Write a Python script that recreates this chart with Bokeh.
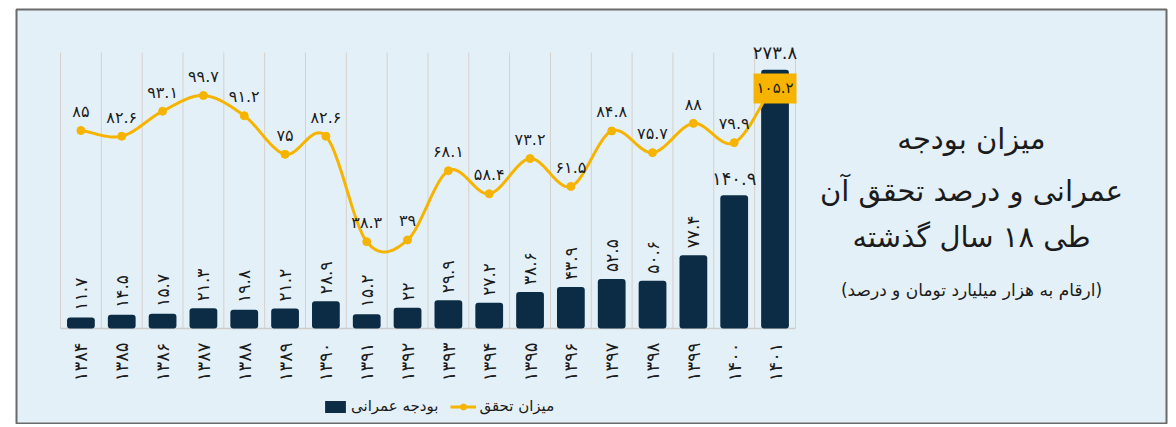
import numpy as np
from bokeh.plotting import figure
from bokeh.models import ColumnDataSource, Range1d, Label
from bokeh.core.properties import value
from bokeh.embed import file_html
from bokeh.resources import INLINE

# ---------------- data ----------------
years = ["1384", "1385", "1386", "1387", "1388", "1389", "1390", "1391", "1392",
         "1393", "1394", "1395", "1396", "1397", "1398", "1399", "1400", "1401"]
budget = [11.7, 14.5, 15.7, 21.3, 19.8, 21.2, 28.9, 15.2, 22, 29.9, 27.2, 38.6,
          43.9, 52.5, 50.6, 77.4, 140.9, 273.8]
realization = [85, 82.6, 93.1, 99.7, 91.2, 75, 82.6, 38.3, 39, 68.1, 58.4, 73.2,
               61.5, 84.8, 75.7, 88, 79.9, 105.2]
title_lines = ["میزان بودجه", "عمرانی و درصد تحقق آن", "طی ۱۸ سال گذشته"]
subtitle = "(ارقام به هزار میلیارد تومان و درصد)"
legend_bar = "بودجه عمرانی"
legend_line = "میزان تحقق"

FA = str.maketrans("0123456789", "۰۱۲۳۴۵۶۷۸۹")


def fa(v):
    s = str(int(v)) if float(v).is_integer() else f"{v:.1f}"
    return s.translate(FA)


NAVY = "#0b2c44"
GOLD = "#f6b400"
TXT = "#1b1b1b"
FONT = value("DejaVu Sans")

n = len(years)
xs = np.arange(n) + 0.5

# ---------------- figure geometry ----------------
W, H = 1168, 424
FL, FT = 16, 9            # frame left / top (page px)
FW, FH = 1150, H - FT     # frame size
px_x = 40.83
x_start = -(60 - FL) / px_x
x_end = x_start + FW / px_x
px_b = 0.945
yb_end = (328 - FT) / px_b
yb_start = yb_end - FH / px_b
px_p = 2.38
yp_end = 85 + (130 - FT) / px_p
yp_start = yp_end - FH / px_p

p = figure(width=W, height=H, output_backend="svg", toolbar_location=None,
           x_range=Range1d(x_start, x_end), y_range=Range1d(yb_start, yb_end),
           x_axis_location=None, y_axis_location=None,
           min_border_left=FL, min_border_right=W - FL - FW, min_border_top=FT,
           min_border_bottom=0)
p.extra_y_ranges = {"pct": Range1d(yp_start, yp_end)}
p.xgrid.visible = False
p.ygrid.visible = False
p.background_fill_color = "#e4f0f7"
p.border_fill_color = "white"
p.outline_line_color = "#6a6a6a"
p.outline_line_width = 2

# vertical grid lines between categories and baseline
edges = np.arange(n + 1)
p.segment(x0=edges, y0=0, x1=edges, y1=292, line_color="#d5d0cc", line_width=1)
p.segment(x0=[0], y0=[0], x1=[n], y1=[0], line_color="#cccccc", line_width=1.5)

# bars
src = ColumnDataSource(dict(x=xs, top=budget, year=[y.translate(FA) for y in years]))
p.vbar(x="x", top="top", bottom=0, width=0.68, source=src, fill_color=NAVY,
       line_color=None, border_radius=3, legend_label=legend_bar)

# year labels (rotated)
p.text(x="x", y=0, text="year", source=src, angle=np.pi / 2, text_align="right",
       text_baseline="middle", y_offset=14, text_font=FONT, text_font_size="18px",
       text_color=TXT)

# bar value labels
rot = ColumnDataSource(dict(x=xs[:16], y=budget[:16], t=[fa(v) for v in budget[:16]]))
hor = ColumnDataSource(dict(x=xs[16:], y=budget[16:], t=[fa(v) for v in budget[16:]]))
p.text(x="x", y="y", text="t", source=rot, angle=np.pi / 2, text_align="left",
       text_baseline="middle", y_offset=-7, text_font=FONT, text_font_size="17px",
       text_color=TXT)
p.text(x="x", y="y", text="t", source=hor, text_align="center",
       text_baseline="middle", y_offset=-17, text_font=FONT, text_font_size="18px",
       text_color=TXT)


# smooth line (Catmull-Rom through the data points)
def catmull_rom(x, y, steps=24):
    P = np.column_stack([x, y]).astype(float)
    P = np.vstack([2 * P[0] - P[1], P, 2 * P[-1] - P[-2]])
    out = []
    t = np.linspace(0, 1, steps, endpoint=False)[:, None]
    for i in range(1, len(P) - 2):
        p0, p1, p2, p3 = P[i - 1], P[i], P[i + 1], P[i + 2]
        seg = 0.5 * ((2 * p1) + (-p0 + p2) * t + (2 * p0 - 5 * p1 + 4 * p2 - p3) * t ** 2
                     + (-p0 + 3 * p1 - 3 * p2 + p3) * t ** 3)
        out.append(seg)
    out.append(P[-2][None, :])
    arr = np.vstack(out)
    return arr[:, 0], arr[:, 1]


cx, cy = catmull_rom(xs, realization)
p.line(cx, cy, line_color=GOLD, line_width=3, y_range_name="pct", legend_label=legend_line)
p.scatter(xs, realization, size=8, fill_color=GOLD, line_color=GOLD, y_range_name="pct",
          legend_label=legend_line)

pl = ColumnDataSource(dict(x=xs[:-1], y=realization[:-1], t=[fa(v) for v in realization[:-1]]))
p.text(x="x", y="y", text="t", source=pl, y_range_name="pct", text_align="center",
       text_baseline="middle", y_offset=-19, text_font=FONT, text_font_size="16px",
       text_color=TXT)
p.add_layout(Label(x=xs[-1], y=realization[-1], y_range_name="pct", text=fa(realization[-1]),
                   text_align="center", text_baseline="middle", y_offset=-6,
                   text_font="DejaVu Sans", text_font_size="15px", text_color=TXT,
                   background_fill_color=GOLD, padding=(3, 6)))

# titles (screen units relative to frame bottom-left)
ys_title = [138, 190, 236]
for line, yy in zip(title_lines, ys_title):
    p.add_layout(Label(x=971 - FL, y=H - yy, x_units="screen", y_units="screen", text=line,
                       text_align="center", text_baseline="middle", text_font="DejaVu Sans",
                       text_font_size="29px", text_color=TXT))
p.add_layout(Label(x=971 - FL, y=H - 289, x_units="screen", y_units="screen", text=subtitle,
                   text_align="center", text_baseline="middle", text_font="DejaVu Sans",
                   text_font_size="17px", text_color=TXT))

# legend
lg = p.legend[0]
lg.orientation = "horizontal"
lg.location = (322 - FL, H - 415)
lg.background_fill_alpha = 0
lg.border_line_alpha = 0
lg.padding = 0
lg.margin = 0
lg.spacing = 12
lg.glyph_width = 26
lg.glyph_height = 15
lg.label_height = 15
lg.label_standoff = 3
lg.label_text_font = "DejaVu Sans"
lg.label_text_font_size = "15px"
lg.label_text_color = TXT

open("out.html", "w").write(file_html(p, INLINE))
